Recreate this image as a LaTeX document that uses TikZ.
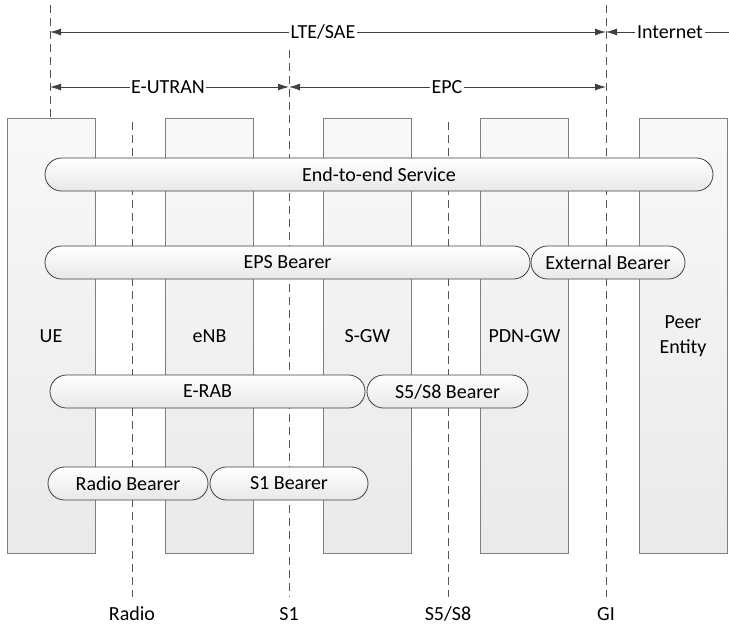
\documentclass[tikz,border=0pt]{standalone}
\usepackage{fontspec}
\setmainfont{Carlito}
\usepackage{tikz}
\usetikzlibrary{arrows.meta, shapes.misc, positioning}

\definecolor{boxfill}{HTML}{EFEFEF}
\definecolor{boxline}{HTML}{7F7F7F}
\definecolor{pillline}{HTML}{404040}
\definecolor{dashgray}{HTML}{555555}

\begin{document}
\begin{tikzpicture}[x=1pt, y=-1pt, >={Latex[length=11pt,width=7pt]},
    font=\fontsize{20}{25}\selectfont,
    unit/.style={draw=boxline, line width=0.8pt, top color=white!60!boxfill,
        bottom color=boxfill!95!gray, minimum width=88pt,
        minimum height=435pt, inner sep=0pt, align=center},
    bearer/.style={rounded rectangle, draw=pillline, line width=0.8pt, top color=white,
        bottom color=gray!18, minimum height=33pt, inner sep=0pt},
    iface/.style={dashgray, line width=0.8pt, dash pattern=on 8pt off 5pt},
    dimline/.style={pillline, line width=0.8pt},
    dimtext/.style={inner sep=1.5pt}]

    % =================================================================
    % 1. KHUNG ẢNH
    % =================================================================
    \useasboundingbox (0,0) rectangle (729,625);

    % =================================================================
    % 2. TOẠ ĐỘ CÁC ĐƯỜNG GIAO DIỆN (nét đứt)
    % =================================================================
    \coordinate (UEtop) at (50,5);
    \coordinate (UEbot) at (50,119);
    \coordinate (RadioTop) at (132,122);
    \coordinate (RadioBot) at (132,597);
    \coordinate (S1top) at (289,50);
    \coordinate (S1bot) at (289,597);
    \coordinate (S58top) at (448,122);
    \coordinate (S58bot) at (448,597);
    \coordinate (GItop) at (606,5);
    \coordinate (GIbot) at (606,597);

    % Các điểm đầu mũi tên
    \coordinate (LteL) at (50,32);
    \coordinate (LteR) at (606,32);
    \coordinate (NetR) at (729,32);
    \coordinate (EutL) at (50,87);
    \coordinate (EutR) at (289,87);
    \coordinate (EpcR) at (606,87);

    % =================================================================
    % 3. CÁC NÚT MẠNG (hộp dọc)
    % =================================================================
    \node[unit] (ue) at (51,336) {UE};
    \node[unit] (enb) at (209.5,336) {eNB};
    \node[unit] (sgw) at (367.5,336) {S-GW};
    \node[unit] (pgw) at (524.5,336) {PDN-GW};
    \node[unit] (peer) at (683,336) {Peer\\Entity};

    % =================================================================
    % 4. ĐƯỜNG GIAO DIỆN VÀ NHÃN
    % =================================================================
    \draw[iface] (UEtop) -- (UEbot);
    \draw[iface] (RadioTop) -- (RadioBot);
    \draw[iface] (S1top) -- (S1bot);
    \draw[iface] (S58top) -- (S58bot);
    \draw[iface] (GItop) -- (GIbot);

    \node (radio) at (132,614) {Radio};
    \node (s1) at (289,614) {S1};
    \node (s58) at (448,614) {S5/S8};
    \node (gi) at (606,614) {GI};

    % =================================================================
    % 5. MŨI TÊN PHẠM VI (LTE/SAE, E-UTRAN, EPC, Internet)
    % =================================================================
    \node[dimtext] (lte) at (323,32) {LTE/SAE};
    \draw[dimline,->] (lte) -- (LteL);
    \draw[dimline,->] (lte) -- (LteR);

    \node[dimtext] (net) at (670,32) {Internet};
    \draw[dimline,->] (net) -- (LteR);
    \draw[dimline] (net) -- (NetR);

    \node[dimtext] (eut) at (168,87) {E-UTRAN};
    \draw[dimline,->] (eut) -- (EutL);
    \draw[dimline,->] (eut) -- (EutR);

    \node[dimtext] (epc) at (447,87) {EPC};
    \draw[dimline,->] (epc) -- (EutR);
    \draw[dimline,->] (epc) -- (EpcR);

    % =================================================================
    % 6. CÁC BEARER (hình viên thuốc)
    % =================================================================
    \node[bearer, minimum width=668pt] (e2e) at (379,174.5) {End-to-end Service};
    \node[bearer, minimum width=485pt] (eps) at (287.5,262.5) {EPS Bearer};
    \node[bearer, minimum width=154pt] (ext) at (608,262.5) {External Bearer};
    \node[bearer, minimum width=315pt] (erab) at (207.5,391.5) {E-RAB};
    \node[bearer, minimum width=161pt] (s58b) at (447.5,391.5) {S5/S8 Bearer};
    \node[bearer, minimum width=160pt] (rb) at (128,483.5) {Radio Bearer};
    \node[bearer, minimum width=158pt] (s1b) at (289,483.5) {S1 Bearer};

\end{tikzpicture}
\end{document}
